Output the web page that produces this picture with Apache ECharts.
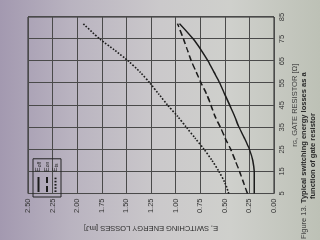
<!DOCTYPE html>
<html><head><meta charset="utf-8">
<script src="https://cdn.jsdelivr.net/npm/echarts@6/dist/echarts.min.js"></script>
<style>
html,body{margin:0;padding:0;width:320px;height:240px;overflow:hidden;}
body{background:linear-gradient(90deg,#a399b0 0%,#b9b3c0 22%,#cbc9cb 50%,#cfd0cc 72%,#bdc1b6 100%);}
#c{position:absolute;left:0;top:0;width:240px;height:320px;transform-origin:0 0;transform:translate(0,240px) rotate(-90deg);}
</style></head><body><div id="c"></div>
<script>
// gate resistor values [Ω]
const resistance = [5, 10, 15, 20, 25, 30, 35, 40, 45, 50, 55, 60, 65, 70, 75, 82];
// switching energies [mJ]
const eOff = [0.20, 0.20, 0.20, 0.215, 0.25, 0.30, 0.355, 0.40, 0.45, 0.50, 0.55, 0.61, 0.67, 0.74, 0.82, 0.96];
const eOn  = [0.27, 0.31, 0.35, 0.395, 0.44, 0.495, 0.545, 0.60, 0.64, 0.685, 0.74, 0.79, 0.84, 0.88, 0.92, 0.98];
const eTs  = [0.46, 0.50, 0.56, 0.63, 0.71, 0.80, 0.89, 0.98, 1.08, 1.17, 1.26, 1.36, 1.48, 1.62, 1.77, 1.94];
const seriesNames = ['Eoff', 'Eon', 'Ets'];
const xName = 'r{s|G}, GATE RESISTOR [Ω]';
const yName = 'E, SWITCHING ENERGY LOSSES [mJ]';
const captionLead = 'Figure 13. ';
const captionLine1 = 'Typical switching energy losses as a';
const captionLine2 = 'function of gate resistor';

const pairs = (ys) => resistance.map((r, i) => [r, ys[i]]);
const ink = '#1c1c1c';
const chart = echarts.init(document.getElementById('c'), null, {renderer: 'canvas'});
chart.setOption({
  animation: false,
  grid: {left: 43, right: 17, top: 28, bottom: 46, show: true, borderColor: '#262626', borderWidth: 1, containLabel: false},
  xAxis: {
    type: 'value', min: 5, max: 85, interval: 10,
    name: xName, nameLocation: 'middle', nameGap: 13,
    nameTextStyle: {fontSize: 7.5, color: '#3a3a3a', fontFamily: 'Liberation Sans', rich: {s: {fontSize: 5.5, verticalAlign: 'bottom', color: '#3a3a3a'}}},
    axisLine: {show: false}, axisTick: {show: false},
    axisLabel: {fontSize: 7.5, color: '#3a3a3a', margin: 4, fontFamily: 'Liberation Sans'},
    splitLine: {show: true, lineStyle: {color: '#4a4a4a', width: 1}}
  },
  yAxis: {
    type: 'value', min: 0, max: 2.5, interval: 0.25,
    name: yName, nameLocation: 'middle', nameGap: 24, nameRotate: 90,
    nameTextStyle: {fontSize: 7.5, color: '#333', fontFamily: 'Liberation Sans'},
    axisLine: {show: false}, axisTick: {show: false},
    axisLabel: {fontSize: 7.5, color: '#333', margin: 5, fontFamily: 'Liberation Sans', formatter: v => v.toFixed(2)},
    splitLine: {show: true, lineStyle: {color: '#4a4a4a', width: 1}}
  },
  legend: {
    orient: 'vertical', left: 43, top: 33,
    itemWidth: 15, itemHeight: 7, itemGap: 1.5,
    padding: [2, 3, 2, 4],
    borderColor: '#222', borderWidth: 1,
    data: seriesNames,
    itemStyle: {opacity: 0},
    formatter: n => 'E{s|' + n.slice(1) + '}',
    textStyle: {fontSize: 7, color: '#222', fontFamily: 'Liberation Sans', rich: {s: {fontSize: 5, verticalAlign: 'bottom', color: '#222'}}}
  },
  series: [
    {name: seriesNames[0], type: 'line', symbol: 'none', smooth: 0.25, data: pairs(eOff),
     lineStyle: {color: ink, width: 1.5, type: 'solid'}, itemStyle: {color: ink}},
    {name: seriesNames[1], type: 'line', symbol: 'none', smooth: 0.25, data: pairs(eOn),
     lineStyle: {color: ink, width: 1.5, type: [6, 3]}, itemStyle: {color: ink}},
    {name: seriesNames[2], type: 'line', symbol: 'none', smooth: 0.25, data: pairs(eTs),
     lineStyle: {color: ink, width: 1.6, type: [1.6, 1.6]}, itemStyle: {color: ink}}
  ],
  graphic: [
    {type: 'text', left: 1, top: 300, style: {
      text: '{n|' + captionLead + '}{b|' + captionLine1 + '}',
      rich: {n: {fontSize: 7.5, fontFamily: 'Liberation Sans', fill: '#3a3a3a'},
             b: {fontSize: 7.5, fontFamily: 'Liberation Sans', fontWeight: 'bold', fill: '#2a2a2a'}}}},
    {type: 'text', left: 41, top: 308.5, style: {
      text: captionLine2, fontSize: 7.5, fontFamily: 'Liberation Sans', fontWeight: 'bold', fill: '#2a2a2a'}}
  ]
});
</script></body></html>
